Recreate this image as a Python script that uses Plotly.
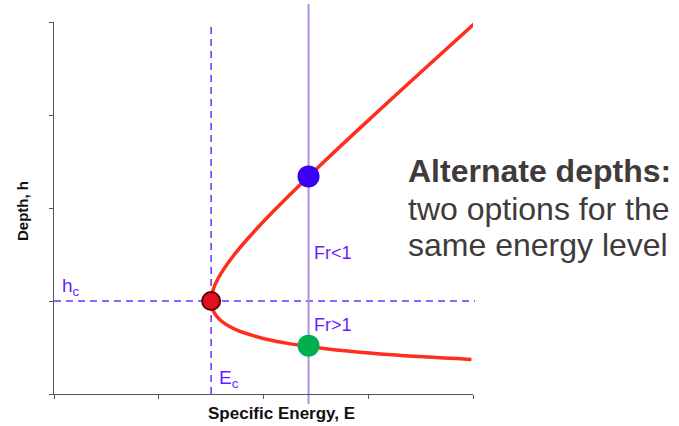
import plotly.graph_objects as go

# Specific energy curve E(h) (depth h, energy E)
depth_h = [0.372, 0.40, 0.45, 0.50, 0.55, 0.60, 0.70, 0.80, 0.90, 1.00,
           1.10, 1.25, 1.50, 1.75, 2.00, 2.50, 3.00, 3.50, 3.99]
energy_E = [3.985, 3.525, 2.919, 2.500, 2.203, 1.989, 1.720, 1.581, 1.517, 1.500,
            1.513, 1.570, 1.722, 1.913, 2.125, 2.580, 3.056, 3.541, 4.020]

# Critical point and the two alternate depths at one energy level
E_c, h_c = 1.5, 1.0
E_level = 2.43
h_sub, h_super = 2.34, 0.52

axis_ticks = [0, 1, 2, 3, 4]

W, H = 679, 426
L, R, T, B = 54, 206, 22, 32
plot_h = H - T - B

def py(pixel_y):
    return (H - B - pixel_y) / plot_h

def px(pixel_x):
    return (pixel_x - L) / (W - L - R)

FONT = "Liberation Sans, Arial"
DASH = "#6633ff"
LABEL = "#6a1bff"
FR_LINE = "#b08fdc"
NOTE = "#3f3b3b"

fig = go.Figure()

fig.add_trace(go.Scatter(
    x=energy_E, y=depth_h, mode="lines",
    line=dict(color="#ff2d1e", width=3.5, shape="spline", smoothing=1.0),
    hoverinfo="skip", showlegend=False))

fig.add_trace(go.Scatter(
    x=[E_level], y=[h_sub], mode="markers",
    marker=dict(size=22, color="#3a00f5", line=dict(width=0)),
    showlegend=False))
fig.add_trace(go.Scatter(
    x=[E_level], y=[h_super], mode="markers",
    marker=dict(size=22, color="#00b050", line=dict(width=0)),
    showlegend=False))
fig.add_trace(go.Scatter(
    x=[E_c], y=[h_c], mode="markers",
    marker=dict(size=18, color="#e0101e", line=dict(width=2, color="#5a0008")),
    showlegend=False))

shapes = [
    # critical energy (dashed vertical)
    dict(type="line", xref="x", yref="paper", x0=E_c, x1=E_c, y0=0, y1=1,
         line=dict(color=DASH, width=1.5, dash="7px,5px"), layer="below"),
    # critical depth (dashed horizontal)
    dict(type="line", xref="paper", yref="y", x0=0, x1=px(475), y0=h_c, y1=h_c,
         line=dict(color=DASH, width=1.5, dash="7px,5px"), layer="below"),
    # constant energy level
    dict(type="line", xref="x", yref="paper", x0=E_level, x1=E_level,
         y0=py(404), y1=py(4),
         line=dict(color=FR_LINE, width=2), layer="below"),
]

def label(text, x, y, size, color, bold=False, xanchor="left", angle=0):
    return dict(text=f"<b>{text}</b>" if bold else text,
                xref="paper", yref="paper", x=px(x), y=py(y),
                xanchor=xanchor, yanchor="middle", showarrow=False,
                textangle=angle,
                font=dict(family=FONT, size=size, color=color))

annotations = [
    label("h<sub>c</sub>", 60, 287, 19, LABEL),
    label("E<sub>c</sub>", 217, 379, 19, LABEL),
    label("Fr<1", 312, 253, 18, LABEL),
    label("Fr>1", 312, 325, 18, LABEL),
    label("Alternate depths:", 406, 171, 32, NOTE, bold=True),
    label("two options for the", 406, 209, 32, NOTE),
    label("same energy level", 406, 245, 32, NOTE),
    # axis titles
    label("Specific Energy, E", 281, 413, 17, "#111111", bold=True,
          xanchor="center"),
    label("Depth, h", 22, 211, 15, "#111111", bold=True,
          xanchor="center", angle=-90),
]

axis_common = dict(
    tickvals=axis_ticks, showticklabels=False, ticks="outside", ticklen=4,
    tickcolor="#555555", showline=True, linecolor="#555555", linewidth=1,
    showgrid=False, zeroline=False, range=[0, 4], fixedrange=True,
    automargin=False,
)

fig.update_layout(
    width=W, height=H,
    margin=dict(l=L, r=R, t=T, b=B, autoexpand=False),
    paper_bgcolor="white", plot_bgcolor="white",
    xaxis=axis_common,
    yaxis=axis_common,
    shapes=shapes, annotations=annotations,
)

fig.write_html("out.html")
